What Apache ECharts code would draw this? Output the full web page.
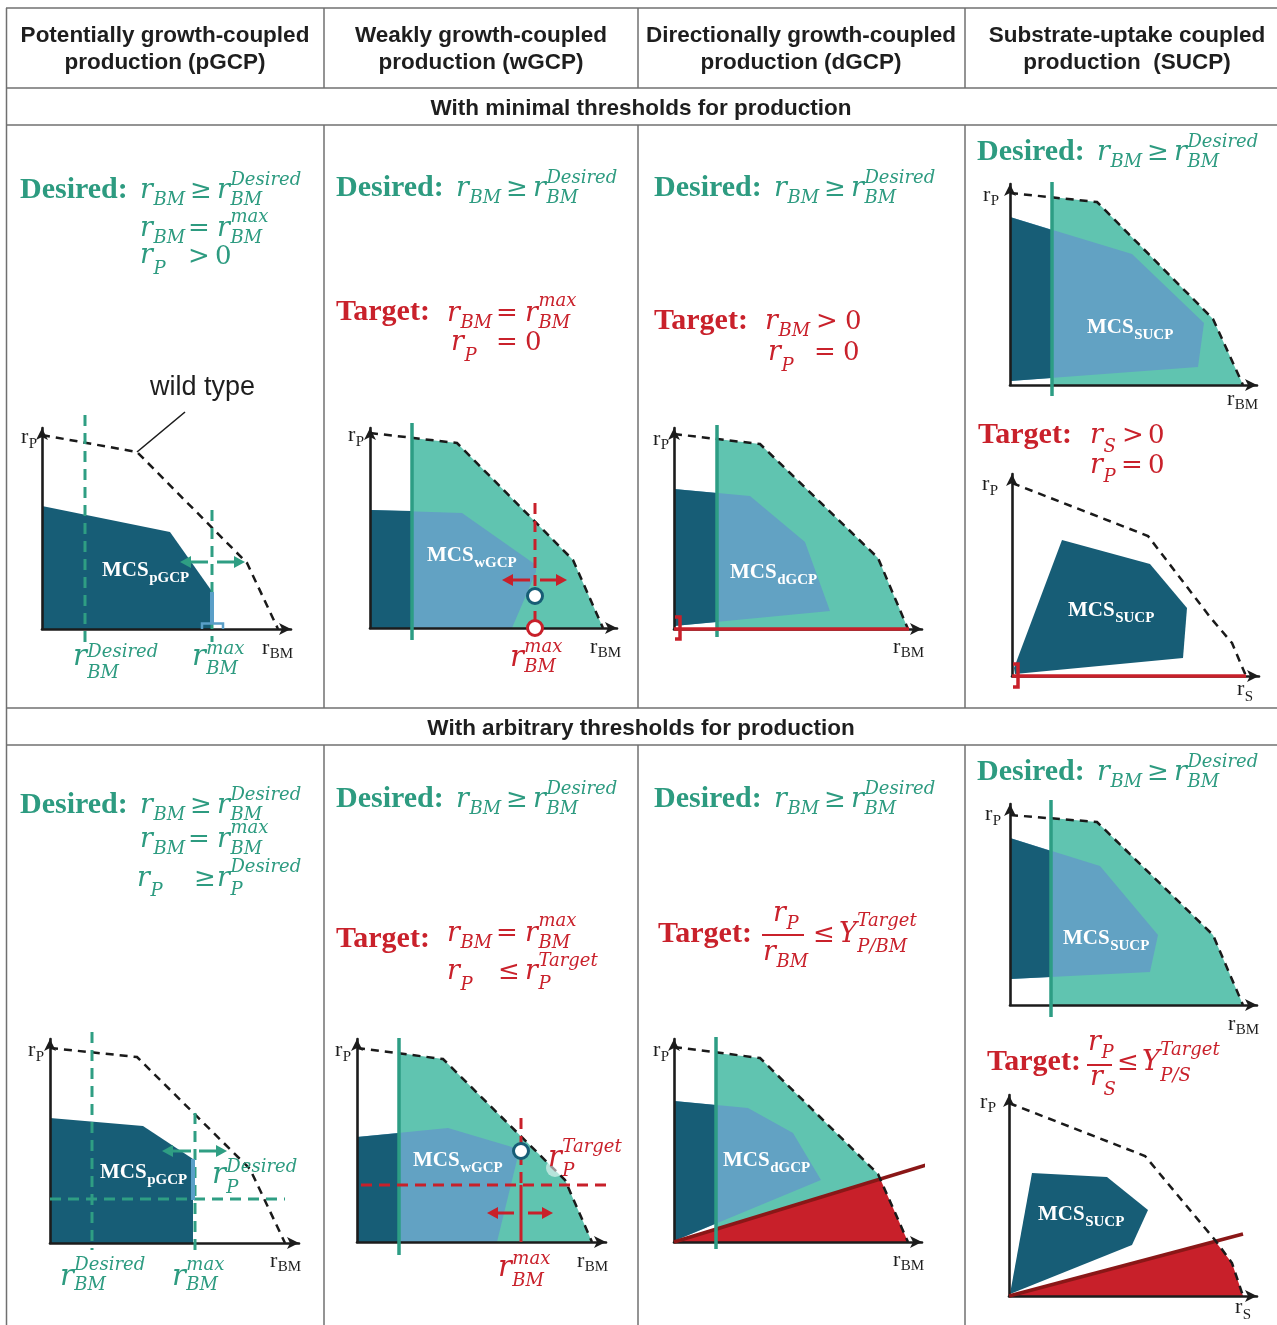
<!DOCTYPE html>
<html><head><meta charset="utf-8">
<script src="https://cdn.jsdelivr.net/npm/echarts@6/dist/echarts.min.js"></script>
<style>html,body{margin:0;padding:0;background:#fff}#c{width:1277px;height:1325px}</style>
</head><body><div id="c"></div>
<script>
// ---------- DATA (units: relative flux, origin at axis crossing) ----------
// Row 1 - pGCP
const pgcp1_wt = [[0,19.4],[9.5,17.7],[20.5,6.6],[23.6,0]];
const pgcp1_mcs = [[0,0],[0,12.3],[12.8,9.7],[16.9,3.9],[16.9,0]];
const pgcp1_bar = [[17.0,3.7],[17.0,0.55]];
const pgcp1_foot = [[16.0,0],[16.0,0.55],[18.1,0.55],[18.1,0]];
const pgcp1_desired = [[4.3,21.4],[4.3,-1.3]];
const pgcp1_max = [[17.0,11.9],[17.0,-1.3]];
const pgcp1_arrows = [[[16.6,6.7],[13.8,6.7]],[[17.5,6.7],[20.3,6.7]]];
const pgcp1_pointer = [[14.3,21.7],[9.5,17.7]];
// Row 1 - wGCP
const wgcp1_wt = [[0,19.5],[8.7,18.5],[20.3,6.8],[23.3,0]];
const wgcp1_feasible = [[4.2,19.0],[8.7,18.5],[20.3,6.8],[23.3,0],[4.2,0]];
const wgcp1_mcs = [[0,0],[0,11.8],[9.2,11.5],[16.6,6.3],[16.6,5.6],[14.2,0]];
const wgcp1_mcsLow = [[0,0],[0,11.8],[4.2,11.7],[4.2,0]];
const wgcp1_desired = [[4.2,20.5],[4.2,-1.2]];
const wgcp1_max = [[16.5,12.5],[16.5,0]];
const wgcp1_arrows = [[[16.0,4.8],[13.2,4.8]],[[17.0,4.8],[19.7,4.8]]];
const wgcp1_point = [[16.5,3.2]];
const wgcp1_target = [[16.5,0]];
// Row 1 - dGCP
const dgcp1_wt = [[0,19.5],[8.6,18.5],[20.4,7.1],[23.4,0]];
const dgcp1_feasible = [[4.3,19.0],[8.6,18.5],[20.4,7.1],[23.4,0],[4.3,0]];
const dgcp1_mcs = [[0,14.0],[7.6,13.3],[13.1,8.7],[15.6,1.8],[0,0.3]];
const dgcp1_mcsLow = [[0,14.0],[4.3,13.6],[4.3,0.71],[0,0.3]];
const dgcp1_desired = [[4.3,20.4],[4.3,-0.8]];
const dgcp1_target = [[0,0],[23.5,0]];
const dgcp1_bracket = [[0.1,1.2],[0.6,1.2],[0.6,-1.0],[0.1,-1.0]];
// Row 1 - SUCP (rP vs rBM)
const sucp1_wt = [[0,19.2],[8.7,18.3],[20.3,6.6],[23.3,0]];
const sucp1_feasible = [[4.2,18.8],[8.7,18.3],[20.3,6.6],[23.3,0],[4.2,0]];
const sucp1_mcs = [[0,16.8],[12.2,13.1],[19.4,6.2],[18.8,1.8],[0,0.4]];
const sucp1_mcsLow = [[0,16.8],[4.2,15.5],[4.2,0.7],[0,0.4]];
const sucp1_desired = [[4.2,20.3],[4.2,-1.1]];
// Row 1 - SUCP (rP vs rS)
const sucp1s_wt = [[0,19.3],[13.6,14.0],[19.8,5.9],[22.0,3.3],[23.4,0]];
const sucp1s_mcs = [[5.0,13.6],[13.8,11.2],[17.5,6.8],[17.1,1.8],[0.3,0.2],[0.2,0.8]];
const sucp1s_target = [[0,0],[23.4,0]];
const sucp1s_bracket = [[0.1,1.2],[0.6,1.2],[0.6,-1.1],[0.1,-1.1]];
// Row 2 - pGCP
const pgcp2_wt = [[0,19.5],[8.7,18.6],[20.0,7.4],[23.5,0]];
const pgcp2_mcs = [[0,0],[0,12.5],[9.3,11.7],[14.3,8.4],[14.3,0]];
const pgcp2_bar = [[14.3,8.4],[14.3,4.3]];
const pgcp2_desired = [[4.2,21.1],[4.2,-0.7]];
const pgcp2_max = [[14.5,13.0],[14.5,-0.7]];
const pgcp2_pDesired = [[-1.8,4.4],[23.5,4.4]];
const pgcp2_arrows = [[[14.1,9.2],[11.2,9.2]],[[14.9,9.2],[17.7,9.2]]];
// Row 2 - wGCP
const wgcp2_wt = [[0,19.4],[8.6,18.3],[20.8,6.2],[23.5,0]];
const wgcp2_feasible = [[4.2,18.9],[8.6,18.3],[20.8,6.2],[23.5,0],[4.2,0]];
const wgcp2_mcs = [[0,0],[0,10.5],[9.1,11.4],[15.5,9.5],[16.0,8.2],[14.0,0]];
const wgcp2_mcsLow = [[0,0],[0,10.5],[4.2,10.9],[4.2,0]];
const wgcp2_desired = [[4.2,20.4],[4.2,-1.3]];
const wgcp2_pTarget = [[-1.4,5.7],[25.5,5.7]];
const wgcp2_maxUpper = [[16.4,12.4],[16.4,5.7]];
const wgcp2_maxLower = [[16.4,5.7],[16.4,0]];
const wgcp2_arrows = [[[15.7,2.9],[13.0,2.9]],[[17.1,2.9],[19.6,2.9]]];
const wgcp2_point = [[16.4,9.1]];
const wgcp2_halo = [[19.8,7.4]];
// Row 2 - dGCP
const dgcp2_wt = [[0,19.5],[8.6,18.4],[20.4,6.8],[23.4,0]];
const dgcp2_feasible = [[4.2,18.9],[8.6,18.4],[20.4,6.8],[20.63,6.29],[4.2,1.28]];
const dgcp2_mcs = [[0,14.1],[7.4,13.4],[11.9,10.9],[14.7,6.2],[0,0.1]];
const dgcp2_mcsLow = [[0,14.1],[4.2,13.7],[4.2,1.84],[0,0.1]];
const dgcp2_desired = [[4.2,20.5],[4.2,-0.7]];
const dgcp2_targetArea = [[0,0],[20.63,6.29],[23.4,0]];
const dgcp2_yield = [[0,0],[25.9,7.9]];
// Row 2 - SUCP (rP vs rBM)
const sucp2_wt = [[0,19.0],[8.7,18.3],[20.3,7.0],[23.3,0]];
const sucp2_feasible = [[4.1,18.7],[8.7,18.3],[20.3,7.0],[23.3,0],[4.1,0]];
const sucp2_mcs = [[0,16.7],[9.0,13.9],[14.8,7.0],[14.0,3.3],[0,2.6]];
const sucp2_mcsLow = [[0,16.7],[4.1,15.4],[4.1,2.8],[0,2.6]];
const sucp2_desired = [[4.1,20.5],[4.1,-1.2]];
// Row 2 - SUCP (rP vs rS)
const sucp2s_wt = [[0,19.3],[13.6,14.0],[20.6,5.6],[22.3,3.3],[23.4,0]];
const sucp2s_mcs = [[2.3,12.3],[9.8,11.9],[13.9,8.6],[12.3,5.1],[0.1,0.2]];
const sucp2s_targetArea = [[0,0],[20.6,5.5],[22.3,3.3],[23.4,0]];
const sucp2s_yield = [[0,0],[23.4,6.2]];

// column headers & row titles
const headerTop = ['Potentially growth-coupled','Weakly growth-coupled','Directionally growth-coupled','Substrate-uptake coupled'];
const headerBottom = ['production (pGCP)','production (wGCP)','production (dGCP)','production  (SUCP)'];
const rowTitles = ['With minimal thresholds for production','With arbitrary thresholds for production'];

// ---------- LAYOUT ----------
// plot boxes: [originX, originY, arrowTipX, arrowTipY]
const BOX = [
 [42,629,297,422],[370,628,623,422],[674,629,928,422],[1010,385,1263,178],[1012,676,1265,468],
 [50,1243,305,1033],[357,1242,612,1033],[674,1242,928,1033],[1010,1005,1263,798],[1009,1296,1263,1089]
];
const AR = 6;
const grids = BOX.map(b=>({left:b[0], top:b[3]+AR, width:b[2]-b[0]-AR, height:b[1]-b[3]-AR, outerBoundsMode:'none', containLabel:false}));
const axisBase = {type:'value', min:0, axisTick:{show:false}, axisLabel:{show:false}, splitLine:{show:false}, z:3,
  axisLine:{show:true, onZero:true, symbol:['none','arrow'], symbolSize:[9,12], lineStyle:{color:'#1c1c1c', width:2.6}}};
const xAxes = grids.map((g,i)=>Object.assign({}, axisBase, {gridIndex:i, max:g.width/10}));
const yAxes = grids.map((g,i)=>Object.assign({}, axisBase, {gridIndex:i, max:g.height/10}));

const C = {teal:'#60c4b0', lb:'#62a2c3', dk:'#175d76', red:'#c8202a', dred:'#8a1717', green:'#2d9d84',
  tdash:'#2f9e83', wt:'#1a1a1a', lbb:'#5a9fc8', tText:'#2d9b80', rText:'#c9212b'};
const S = [];
function P(gi, pts, fill){ S.push({type:'custom', xAxisIndex:gi, yAxisIndex:gi, z:2, clip:false, silent:true, data:pts,
  renderItem:(p,api)=> p.dataIndex===0 ? {type:'polygon', shape:{points:pts.map(q=>api.coord(q))}, style:{fill}} : null}); }
function L(gi, pts, color, width, dash, z){ S.push({type:'line', xAxisIndex:gi, yAxisIndex:gi, z:z||4, clip:false, silent:true,
  symbol:'none', data:pts, animation:false, lineStyle:{color, width, type: dash||'solid', cap:'butt', join:'miter'}}); }
function O(gi, pts, border, size, fill, bw){ S.push({type:'scatter', xAxisIndex:gi, yAxisIndex:gi, z:5, clip:false, silent:true,
  symbol:'circle', symbolSize:size||15, data:pts, itemStyle:{color:fill||'#fff', borderColor:border, borderWidth:bw===undefined?3:bw, opacity:1}}); }
function A(gi, list, color){ S.push({type:'custom', xAxisIndex:gi, yAxisIndex:gi, z:5, clip:false, silent:true,
  encode:{x:[0,2], y:[1,3]}, data:list.map(a=>[a[0][0],a[0][1],a[1][0],a[1][1]]),
  renderItem:(p,api)=>{ const a=api.coord([api.value(0),api.value(1)]), b=api.coord([api.value(2),api.value(3)]);
    const dx=b[0]-a[0], dy=b[1]-a[1], Ln=Math.hypot(dx,dy), ux=dx/Ln, uy=dy/Ln, hl=11, hw=6;
    const bx=b[0]-ux*hl, by=b[1]-uy*hl;
    return {type:'group', children:[
      {type:'line', shape:{x1:a[0],y1:a[1],x2:bx+ux*1,y2:by+uy*1}, style:{stroke:color, lineWidth:3}},
      {type:'polygon', shape:{points:[[b[0],b[1]],[bx-uy*hw,by+ux*hw],[bx+uy*hw,by-ux*hw]]}, style:{fill:color}}]}; }}); }
const WTD = [8,6], TD = [11,7];

// 0 pGCP row1
P(0, pgcp1_mcs, C.dk);
L(0, pgcp1_wt, C.wt, 2.5, WTD);
L(0, pgcp1_pointer, C.wt, 1.6);
L(0, pgcp1_desired, C.tdash, 3, TD);
L(0, pgcp1_max, C.tdash, 3, TD);
L(0, pgcp1_bar, C.lbb, 4);
L(0, pgcp1_foot, C.lbb, 2.5);
A(0, pgcp1_arrows, C.tdash);
// 1 wGCP row1
P(1, wgcp1_feasible, C.teal); P(1, wgcp1_mcs, C.lb); P(1, wgcp1_mcsLow, C.dk);
L(1, wgcp1_wt, C.wt, 2.5, WTD);
L(1, wgcp1_desired, C.green, 3.5);
L(1, wgcp1_max, C.red, 3, TD);
A(1, wgcp1_arrows, C.red);
O(1, wgcp1_point, C.dk); O(1, wgcp1_target, C.red);
// 2 dGCP row1
P(2, dgcp1_feasible, C.teal); P(2, dgcp1_mcs, C.lb); P(2, dgcp1_mcsLow, C.dk);
L(2, dgcp1_wt, C.wt, 2.5, WTD);
L(2, dgcp1_desired, C.green, 3.5);
L(2, dgcp1_target, C.red, 3.5);
L(2, dgcp1_bracket, C.red, 3.5);
// 3 SUCP rBM row1
P(3, sucp1_feasible, C.teal); P(3, sucp1_mcs, C.lb); P(3, sucp1_mcsLow, C.dk);
L(3, sucp1_wt, C.wt, 2.5, WTD);
L(3, sucp1_desired, C.green, 3.5);
// 4 SUCP rS row1
P(4, sucp1s_mcs, C.dk);
L(4, sucp1s_wt, C.wt, 2.5, WTD);
L(4, sucp1s_target, C.red, 3.5);
L(4, sucp1s_bracket, C.red, 3.5);
// 5 pGCP row2
P(5, pgcp2_mcs, C.dk);
L(5, pgcp2_wt, C.wt, 2.5, WTD);
L(5, pgcp2_desired, C.tdash, 3, TD);
L(5, pgcp2_max, C.tdash, 3, TD);
L(5, pgcp2_pDesired, C.tdash, 3, TD);
L(5, pgcp2_bar, C.lbb, 4);
A(5, pgcp2_arrows, C.tdash);
// 6 wGCP row2
P(6, wgcp2_feasible, C.teal); P(6, wgcp2_mcs, C.lb); P(6, wgcp2_mcsLow, C.dk);
L(6, wgcp2_wt, C.wt, 2.5, WTD);
L(6, wgcp2_desired, C.green, 3.5);
L(6, wgcp2_pTarget, C.red, 3, TD);
L(6, wgcp2_maxUpper, C.red, 3, TD);
L(6, wgcp2_maxLower, C.red, 3);
A(6, wgcp2_arrows, C.red);
O(6, wgcp2_halo, 'rgba(255,255,255,0)', 18, 'rgba(255,255,255,0.55)', 0);
O(6, wgcp2_point, C.dk);
// 7 dGCP row2
P(7, dgcp2_feasible, C.teal); P(7, dgcp2_mcs, C.lb); P(7, dgcp2_mcsLow, C.dk); P(7, dgcp2_targetArea, C.red);
L(7, dgcp2_yield, C.dred, 3.5);
L(7, dgcp2_wt, C.wt, 2.5, WTD);
L(7, dgcp2_desired, C.green, 3.5);
// 8 SUCP rBM row2
P(8, sucp2_feasible, C.teal); P(8, sucp2_mcs, C.lb); P(8, sucp2_mcsLow, C.dk);
L(8, sucp2_wt, C.wt, 2.5, WTD);
L(8, sucp2_desired, C.green, 3.5);
// 9 SUCP rS row2
P(9, sucp2s_mcs, C.dk); P(9, sucp2s_targetArea, C.red);
L(9, sucp2s_yield, C.dred, 3.5);
L(9, sucp2s_wt, C.wt, 2.5, WTD);

// ---------- TEXT ----------
const FONTS = {
 lab:['normal','bold',30,'Liberation Serif'],
 i:['italic','normal',27,'DejaVu Serif'],
 ib:['italic','normal',29,'DejaVu Serif'],
 op:['normal','normal',26,'DejaVu Serif'],
 s:['italic','normal',18,'DejaVu Serif'],
 ax:['normal','normal',22,'Liberation Serif'],
 axs:['normal','normal',15,'Liberation Serif'],
 mcs:['normal','bold',21,'Liberation Serif'],
 mcss:['normal','bold',15,'Liberation Serif'],
 wt:['normal','normal',27,'Liberation Sans'],
 hdr:['normal','bold',22.5,'Liberation Sans']
};
const mctx = document.createElement('canvas').getContext('2d');
function fontStr(f){ return f[0]+' '+f[1]+' '+f[2]+'px "'+f[3]+'"'; }
function measure(s,f){ mctx.font = fontStr(f); return mctx.measureText(s).width; }
const G = [];
function textEl(x, b, s, st, color, align){ const f=FONTS[st];
  G.push({type:'text', z:100, x:x, y:b-0.34*f[2], silent:true, style:{text:s, fill:color, fontStyle:f[0], fontWeight:f[1], fontSize:f[2], fontFamily:f[3],
    textAlign:align||'left', textVerticalAlign:'middle', align:align||'left', verticalAlign:'middle'}}); }
function put(color, toks){ let ps=0, pe=0, mainB=null;
  for(const t of toks){ let [x,b,s,st]=t;
    if(st==='i'||st==='ib') mainB=b;
    if(st==='s' && mainB!==null){ if(b<mainB) b-=2; else if(b>mainB) b+=2; }
    const xx = x==='+'? pe+0.5 : (x==='=' ? ps : x); const w=measure(s,FONTS[st]);
    textEl(xx,b,s,st,color);
    if(x==='='){ pe=Math.max(pe,xx+w); } else { ps=xx; pe=xx+w; } } }
function hline(x1,x2,y,color,w){ G.push({type:'line', z:100, silent:true, shape:{x1,y1:y,x2,y2:y}, style:{stroke:color, lineWidth:w}}); }
function vline(x,y1,y2,color,w){ G.push({type:'line', z:100, silent:true, shape:{x1:x,y1,x2:x,y2}, style:{stroke:color, lineWidth:w}}); }
function desired(dx,b){ return [[20+dx,b,'Desired:','lab'],[140+dx,b,'r','i'],['+',b+4,'BM','s'],[190+dx,b,'≥','op'],
  [217+dx,b,'r','i'],['+',b-12,'Desired','s'],['=',b+4,'BM','s']]; }
const T=C.tText, R=C.rText, K='#1e1e1e', W='#ffffff';

// table
const TL='#707070';
[8,88,125,708,745].forEach(y=>hline(6,1277,y,TL,1.5));
vline(6.5,8,1325,TL,1.5);
[324,638,965].forEach(x=>{ vline(x,8,88,TL,1.5); vline(x,125,708,TL,1.5); vline(x,745,1325,TL,1.5); });
const colC=[165,481,801,1127];
headerTop.forEach((s,i)=>textEl(colC[i],43,s,'hdr',K,'center'));
headerBottom.forEach((s,i)=>textEl(colC[i],70,s,'hdr',K,'center'));
textEl(641,116,rowTitles[0],'hdr',K,'center');
textEl(641,736,rowTitles[1],'hdr',K,'center');

// A1
put(T, desired(0,200));
put(T, [[140,238,'r','i'],['+',242,'BM','s'],[188,238,'=','op'],[217,238,'r','i'],['+',225,'max','s'],['=',242,'BM','s']]);
put(T, [[140,265,'r','i'],['+',273,'P','s'],[188,266,'>','op'],[215,266,'0','op']]);
put(K, [[21,445,'r','ax'],['+',449,'P','axs']]);
put(K, [[262,656,'r','ax'],['+',659,'BM','axs']]);
put(W, [[102,578,'MCS','mcs'],['+',583,'pGCP','mcss']]);
put(T, [[73,667,'r','ib'],['+',660,'Desired','s'],['=',677,'BM','s']]);
put(T, [[192,667,'r','ib'],['+',657,'max','s'],['=',673,'BM','s']]);
put(K, [[150,397,'wild type','wt']]);
// B1
put(T, desired(316,198));
put(R, [[336,322,'Target:','lab'],[447,323,'r','i'],['+',327,'BM','s'],[496,323,'=','op'],[525,323,'r','i'],['+',309,'max','s'],['=',327,'BM','s']]);
put(R, [[451,352,'r','i'],['+',360,'P','s'],[496,352,'=','op'],[525,352,'0','op']]);
put(K, [[348,443,'r','ax'],['+',447,'P','axs']]);
put(K, [[590,655,'r','ax'],['+',658,'BM','axs']]);
put(W, [[427,563,'MCS','mcs'],['+',568,'wGCP','mcss']]);
put(R, [[510,668,'r','ib'],['+',655,'max','s'],['=',671,'BM','s']]);
// C1
put(T, desired(634,198));
put(R, [[654,331,'Target:','lab'],[765,331,'r','i'],['+',335,'BM','s'],[816,331,'>','op'],[845,331,'0','op']]);
put(R, [[768,362,'r','i'],['+',370,'P','s'],[814,362,'=','op'],[843,362,'0','op']]);
put(K, [[653,447,'r','ax'],['+',450,'P','axs']]);
put(K, [[893,655,'r','ax'],['+',658,'BM','axs']]);
put(W, [[730,580,'MCS','mcs'],['+',585,'dGCP','mcss']]);
// D1
put(T, desired(957,162));
put(K, [[983,203,'r','ax'],['+',206,'P','axs']]);
put(K, [[1227,407,'r','ax'],['+',410,'BM','axs']]);
put(W, [[1087,335,'MCS','mcs'],['+',340,'SUCP','mcss']]);
put(R, [[978,445,'Target:','lab'],[1090,445,'r','i'],['+',451,'S','s'],[1122,445,'>','op'],[1148,445,'0','op']]);
put(R, [[1090,475,'r','i'],['+',481,'P','s'],[1121,475,'=','op'],[1148,475,'0','op']]);
put(K, [[982,492,'r','ax'],['+',496,'P','axs']]);
put(K, [[1237,697,'r','ax'],['+',702,'S','axs']]);
put(W, [[1068,618,'MCS','mcs'],['+',623,'SUCP','mcss']]);
// A2
put(T, desired(0,815));
put(T, [[140,849,'r','i'],['+',853,'BM','s'],[188,849,'=','op'],[217,849,'r','i'],['+',836,'max','s'],['=',853,'BM','s']]);
put(T, [[137,888,'r','i'],['+',895,'P','s'],[194,888,'≥','op'],[217,888,'r','i'],['+',875,'Desired','s'],['=',894,'P','s']]);
put(K, [[28,1058,'r','ax'],['+',1062,'P','axs']]);
put(K, [[270,1269,'r','ax'],['+',1272,'BM','axs']]);
put(W, [[100,1180,'MCS','mcs'],['+',1185,'pGCP','mcss']]);
put(T, [[212,1185,'r','ib'],['+',1175,'Desired','s'],['=',1192,'P','s']]);
put(T, [[60,1287,'r','ib'],['+',1273,'Desired','s'],['=',1289,'BM','s']]);
put(T, [[172,1287,'r','ib'],['+',1273,'max','s'],['=',1289,'BM','s']]);
// B2
put(T, desired(316,809));
put(R, [[336,949,'Target:','lab'],[447,943,'r','i'],['+',947,'BM','s'],[496,943,'=','op'],[525,943,'r','i'],['+',929,'max','s'],['=',947,'BM','s']]);
put(R, [[447,981,'r','i'],['+',989,'P','s'],[498,981,'≤','op'],[525,981,'r','i'],['+',969,'Target','s'],['=',988,'P','s']]);
put(K, [[335,1058,'r','ax'],['+',1062,'P','axs']]);
put(K, [[577,1269,'r','ax'],['+',1272,'BM','axs']]);
put(W, [[413,1168,'MCS','mcs'],['+',1173,'wGCP','mcss']]);
put(R, [[548,1168,'r','ib'],['+',1155,'Target','s'],['=',1175,'P','s']]);
put(R, [[498,1278,'r','ib'],['+',1267,'max','s'],['=',1285,'BM','s']]);
// C2
put(T, desired(634,809));
put(R, [[658,944,'Target:','lab']]);
put(R, [[773,923,'r','i'],['+',928,'P','s']]);
hline(762,804,935,R,2);
put(R, [[763,962,'r','i'],['+',966,'BM','s']]);
put(R, [[813,944,'≤','op'],[839,944,'Y','i'],['+',929,'Target','s'],['=',951,'P/BM','s']]);
put(K, [[653,1058,'r','ax'],['+',1062,'P','axs']]);
put(K, [[893,1268,'r','ax'],['+',1271,'BM','axs']]);
put(W, [[723,1168,'MCS','mcs'],['+',1173,'dGCP','mcss']]);
// D2
put(T, desired(957,782));
put(K, [[985,822,'r','ax'],['+',826,'P','axs']]);
put(K, [[1228,1032,'r','ax'],['+',1035,'BM','axs']]);
put(W, [[1063,946,'MCS','mcs'],['+',951,'SUCP','mcss']]);
put(R, [[987,1072,'Target:','lab']]);
put(R, [[1088,1052,'r','i'],['+',1057,'P','s']]);
hline(1087,1112,1065,R,2);
put(R, [[1090,1087,'r','i'],['+',1094,'S','s']]);
put(R, [[1117,1072,'≤','op'],[1142,1072,'Y','i'],['+',1058,'Target','s'],['=',1080,'P/S','s']]);
put(K, [[980,1110,'r','ax'],['+',1113,'P','axs']]);
put(K, [[1235,1315,'r','ax'],['+',1320,'S','axs']]);
put(W, [[1038,1222,'MCS','mcs'],['+',1227,'SUCP','mcss']]);

const chart = echarts.init(document.getElementById('c'), null, {renderer:'canvas'});
chart.setOption({
  backgroundColor:'#ffffff', animation:false,
  grid: grids, xAxis: xAxes, yAxis: yAxes, series: S,
  graphic: {elements: G}
});
</script></body></html>
